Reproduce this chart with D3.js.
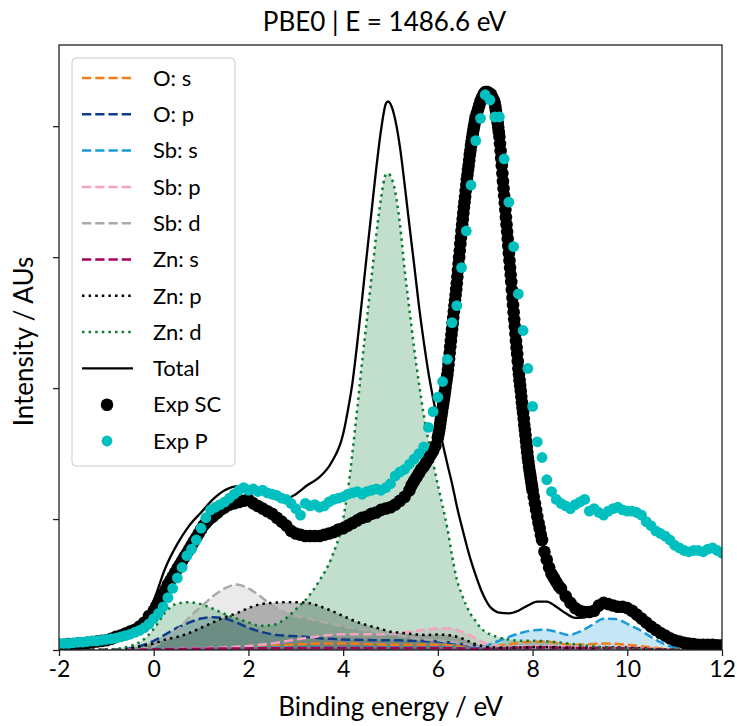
<!DOCTYPE html>
<html><head><meta charset="utf-8">
<script src="https://cdn.jsdelivr.net/npm/d3@7"></script>
<style>body{margin:0;background:#fff} text{font-family:Lato,"Open Sans",sans-serif;fill:#000}</style>
</head><body><svg id="chart" width="737" height="726"></svg>
<script>
const chartTitle = "PBE0 | E = 1486.6 eV";
const xLabel = "Binding energy / eV";
const yLabel = "Intensity / AUs";
const xTicks = [-2,0,2,4,6,8,10,12];
const xTickLabels = ["-2","0","2","4","6","8","10","12"];
const yTicks = [0,1,2,3,4];
const pdosNames = ["O: s","O: p","Sb: s","Sb: p","Sb: d","Zn: s","Zn: p","Zn: d"];

const pdosX = [-2,-1.75,-1.5,-1.25,-1,-0.75,-0.5,-0.25,0,0.25,0.5,0.75,1,1.25,1.5,1.75,2,2.25,2.5,2.75,3,3.25,3.5,3.75,4,4.25,4.5,4.75,5,5.25,5.5,5.75,6,6.25,6.5,6.75,7,7.25,7.5,7.75,8,8.25,8.5,8.75,9,9.25,9.5,9.75,10,10.25,10.5,10.75,11,11.25,11.5,11.75,12];
const oS = [0,0,0,0,0,0,0.002,0.004,0.006,0.008,0.01,0.012,0.013,0.015,0.017,0.019,0.022,0.026,0.031,0.037,0.043,0.047,0.05,0.05,0.05,0.048,0.045,0.042,0.04,0.04,0.04,0.04,0.04,0.035,0.03,0.023,0.02,0.03,0.045,0.058,0.063,0.064,0.055,0.042,0.04,0.045,0.05,0.048,0.04,0.03,0.02,0.01,0.005,0.002,0,0,0];
const oP = [0,0,0,0,0.002,0.005,0.012,0.035,0.07,0.12,0.17,0.21,0.24,0.25,0.24,0.21,0.17,0.14,0.12,0.11,0.105,0.1,0.09,0.085,0.08,0.078,0.076,0.075,0.075,0.073,0.07,0.068,0.065,0.058,0.045,0.03,0.02,0.015,0.015,0.018,0.02,0.02,0.02,0.018,0.015,0.015,0.015,0.014,0.01,0.007,0.004,0.002,0,0,0,0,0];
const sbS = [0,0,0,0,0,0,0.002,0.005,0.008,0.01,0.012,0.014,0.015,0.016,0.017,0.018,0.018,0.018,0.019,0.02,0.02,0.02,0.02,0.02,0.02,0.02,0.02,0.02,0.02,0.02,0.02,0.02,0.02,0.018,0.015,0.018,0.03,0.065,0.10,0.13,0.15,0.155,0.14,0.115,0.14,0.19,0.238,0.236,0.20,0.155,0.10,0.05,0.02,0.005,0,0,0];
const sbP = [0,0,0,0,0,0,0.001,0.003,0.005,0.007,0.01,0.012,0.015,0.017,0.02,0.025,0.03,0.04,0.05,0.065,0.08,0.093,0.105,0.115,0.12,0.12,0.12,0.12,0.122,0.13,0.145,0.155,0.165,0.165,0.14,0.10,0.05,0.03,0.025,0.028,0.03,0.03,0.03,0.027,0.025,0.022,0.02,0.02,0.02,0.015,0.01,0.006,0.003,0,0,0,0];
const sbD = [0,0,0,0,0,0,0.003,0.01,0.03,0.08,0.15,0.25,0.33,0.41,0.47,0.50,0.47,0.41,0.34,0.29,0.26,0.24,0.22,0.20,0.18,0.165,0.15,0.135,0.12,0.105,0.09,0.08,0.075,0.065,0.05,0.035,0.027,0.022,0.02,0.02,0.02,0.018,0.015,0.012,0.01,0.01,0.01,0.01,0.008,0.005,0.003,0.001,0,0,0,0,0];
const znS = [0,0,0,0,0,0,0.001,0.003,0.005,0.007,0.008,0.009,0.01,0.011,0.011,0.012,0.012,0.013,0.013,0.014,0.015,0.015,0.015,0.015,0.015,0.015,0.015,0.015,0.015,0.015,0.015,0.015,0.015,0.014,0.012,0.01,0.01,0.012,0.015,0.018,0.02,0.02,0.018,0.015,0.015,0.015,0.015,0.015,0.013,0.01,0.006,0.003,0.001,0,0,0,0];
const znP = [0,0,0,0,0.002,0.006,0.015,0.03,0.05,0.08,0.10,0.13,0.17,0.21,0.25,0.28,0.32,0.35,0.36,0.365,0.365,0.36,0.335,0.30,0.26,0.22,0.19,0.165,0.14,0.13,0.12,0.115,0.118,0.112,0.09,0.05,0.025,0.018,0.018,0.02,0.022,0.022,0.02,0.018,0.018,0.018,0.02,0.02,0.018,0.013,0.008,0.004,0.002,0,0,0,0];
const znD = [[-2,0],[-1.5,0],[-1,0.003],[-0.75,0.01],[-0.5,0.03],[-0.25,0.07],[0,0.16],[0.25,0.29],[0.5,0.355],[0.75,0.365],[1,0.35],[1.25,0.315],[1.5,0.275],[1.75,0.24],[2,0.21],[2.25,0.185],[2.5,0.19],[2.75,0.23],[3,0.31],[3.25,0.40],[3.5,0.53],[3.75,0.70],[4,1.0],[4.1,1.22],[4.2,1.52],[4.3,1.85],[4.4,2.2],[4.5,2.52],[4.6,2.85],[4.7,3.17],[4.8,3.45],[4.9,3.63],[4.95,3.64],[5,3.62],[5.1,3.5],[5.2,3.25],[5.3,2.9],[5.4,2.6],[5.5,2.3],[5.6,2.04],[5.7,1.8],[5.8,1.6],[5.9,1.43],[6,1.26],[6.1,1.1],[6.2,0.93],[6.3,0.72],[6.4,0.54],[6.5,0.43],[6.6,0.34],[6.7,0.27],[6.8,0.22],[6.9,0.17],[7,0.14],[7.25,0.10],[7.5,0.08],[7.75,0.07],[8,0.07],[8.25,0.068],[8.5,0.06],[8.75,0.05],[9,0.04],[9.5,0.02],[10,0.01],[10.5,0.004],[11,0],[12,0]];
const total = [[-2,0.02],[-1.75,0.025],[-1.5,0.035],[-1.25,0.045],[-1,0.06],[-0.75,0.09],[-0.5,0.13],[-0.25,0.21],[0,0.38],[0.25,0.63],[0.5,0.81],[0.75,0.95],[1,1.05],[1.25,1.15],[1.5,1.22],[1.75,1.25],[2,1.24],[2.25,1.2],[2.5,1.16],[2.75,1.15],[3,1.19],[3.25,1.26],[3.5,1.32],[3.75,1.43],[4,1.65],[4.1,1.83],[4.2,2.05],[4.3,2.35],[4.4,2.68],[4.5,3.02],[4.6,3.35],[4.7,3.68],[4.8,3.97],[4.9,4.17],[4.95,4.19],[5,4.17],[5.1,4.05],[5.2,3.84],[5.3,3.55],[5.4,3.24],[5.5,2.94],[5.6,2.63],[5.7,2.36],[5.8,2.12],[5.9,1.92],[6,1.74],[6.1,1.58],[6.2,1.42],[6.3,1.27],[6.4,1.1],[6.5,0.95],[6.6,0.81],[6.7,0.68],[6.8,0.57],[6.9,0.47],[7,0.39],[7.1,0.33],[7.2,0.3],[7.3,0.285],[7.5,0.28],[7.7,0.3],[7.9,0.34],[8.1,0.37],[8.3,0.37],[8.5,0.33],[8.7,0.28],[8.9,0.245],[9.1,0.25],[9.3,0.29],[9.5,0.33],[9.7,0.35],[9.9,0.33],[10.1,0.29],[10.3,0.23],[10.5,0.17],[10.7,0.11],[10.9,0.07],[11.1,0.04],[11.3,0.02],[11.6,0.01],[12,0.005]];

const expSC = [[-2,0.04],[-1.9,0.04],[-1.8,0.045],[-1.7,0.045],[-1.6,0.05],[-1.5,0.05],[-1.4,0.055],[-1.3,0.06],[-1.2,0.065],[-1.1,0.07],[-1,0.075],[-0.9,0.085],[-0.8,0.1],[-0.7,0.11],[-0.6,0.125],[-0.5,0.14],[-0.4,0.155],[-0.3,0.18],[-0.2,0.21],[-0.1,0.26],
[0,0.3],[0.05,0.33],[0.1,0.36],[0.15,0.4],[0.2,0.43],[0.25,0.46],[0.3,0.5],[0.35,0.53],[0.4,0.56],[0.45,0.59],[0.5,0.62],[0.55,0.65],[0.6,0.68],[0.65,0.71],[0.7,0.74],[0.75,0.77],[0.8,0.8],[0.85,0.83],[0.9,0.86],[0.95,0.89],[1,0.92],[1.05,0.95],[1.1,0.97],[1.15,0.99],[1.2,1.01],[1.25,1.02],[1.3,1.04],[1.35,1.05],[1.4,1.07],[1.45,1.08],
[1.5,1.09],[1.6,1.11],[1.7,1.12],[1.8,1.13],[1.9,1.14],[2,1.15],[2.1,1.12],[2.2,1.1],[2.3,1.08],[2.4,1.06],[2.5,1.04],[2.6,1.01],[2.7,0.98],[2.8,0.95],[2.9,0.91],[3,0.89],[3.1,0.88],[3.2,0.87],[3.3,0.87],[3.4,0.87],[3.5,0.87],[3.6,0.88],[3.7,0.89],[3.8,0.9],[3.9,0.92],[4,0.93],[4.1,0.95],[4.2,0.97],[4.3,0.99],[4.4,1.01],[4.5,1.02],[4.6,1.04],[4.7,1.05],[4.8,1.07],[4.9,1.08],[5,1.09],[5.1,1.11],[5.2,1.14],[5.3,1.17],[5.4,1.22],
[5.45,1.26],[5.5,1.29],[5.55,1.32],[5.6,1.35],[5.65,1.38],[5.7,1.4],[5.75,1.43],[5.8,1.46],[5.85,1.49],[5.9,1.52],[5.95,1.56],
[6,1.62],[6.025,1.67],[6.05,1.73],[6.075,1.79],[6.1,1.85],[6.125,1.91],[6.15,1.97],[6.175,2.04],[6.2,2.1],[6.225,2.18],[6.25,2.27],[6.275,2.36],[6.3,2.45],[6.325,2.54],[6.35,2.63],[6.375,2.71],[6.4,2.8],[6.425,2.9],[6.45,3],[6.475,3.1],[6.5,3.2],[6.525,3.29],[6.55,3.38],[6.575,3.46],[6.6,3.55],[6.625,3.63],[6.65,3.7],[6.675,3.78],[6.7,3.85],[6.725,3.91],[6.75,3.97],[6.775,4.02],[6.8,4.07],[6.825,4.1],[6.85,4.13],[6.875,4.16],[6.9,4.19],[6.925,4.21],[6.95,4.23],[6.975,4.25],[7,4.26],[7.025,4.26],[7.05,4.26],[7.075,4.25],[7.1,4.25],[7.125,4.24],[7.15,4.22],[7.175,4.2],[7.2,4.18],[7.225,4.12],[7.25,4.06],[7.275,3.99],[7.3,3.92],[7.325,3.81],[7.35,3.7],[7.375,3.58],[7.4,3.47],[7.425,3.36],[7.45,3.25],[7.475,3.14],[7.5,3.03],[7.525,2.92],[7.55,2.81],[7.575,2.69],[7.6,2.58],[7.625,2.47],[7.65,2.36],[7.675,2.26],[7.7,2.15],[7.725,2.06],[7.75,1.98],[7.775,1.89],[7.8,1.81],[7.825,1.72],[7.85,1.64],[7.875,1.55],[7.9,1.47],[7.925,1.4],[7.95,1.34],[7.975,1.28],[8,1.22],[8.025,1.17],[8.05,1.12],[8.075,1.07],[8.1,1.02],[8.125,0.97],[8.15,0.93],[8.175,0.88],[8.2,0.84],
[6.0125,1.645],[6.0375,1.7],[6.0625,1.76],[6.0875,1.82],[6.1125,1.88],[6.1375,1.94],[6.1625,2.005],[6.1875,2.07],[6.2125,2.14],[6.2375,2.225],[6.2625,2.315],[6.2875,2.405],[6.3125,2.495],[6.3375,2.585],[6.3625,2.67],[6.3875,2.755],[6.4125,2.85],[6.4375,2.95],[6.4625,3.05],[6.4875,3.15],[6.5125,3.245],[6.5375,3.335],[6.5625,3.42],[6.5875,3.505],[6.6125,3.59],[6.6375,3.665],[6.6625,3.74],[6.6875,3.815],[6.7125,3.88],[6.7375,3.94],[6.7625,3.995],[6.7875,4.045],
[7.2125,4.15],[7.2375,4.09],[7.2625,4.025],[7.2875,3.955],[7.3125,3.865],[7.3375,3.755],[7.3625,3.64],[7.3875,3.525],[7.4125,3.415],[7.4375,3.305],[7.4625,3.195],[7.4875,3.085],[7.5125,2.975],[7.5375,2.865],[7.5625,2.75],[7.5875,2.635],[7.6125,2.525],[7.6375,2.415],[7.6625,2.31],[7.6875,2.205],[7.7125,2.105],[7.7375,2.02],[7.7625,1.935],[7.7875,1.85],[7.8125,1.765],[7.8375,1.68],[7.8625,1.595],[7.8875,1.51],[7.9125,1.435],[7.9375,1.37],[7.9625,1.31],[7.9875,1.25],
[8.25,0.75],[8.3,0.69],[8.35,0.63],[8.4,0.58],[8.45,0.55],[8.5,0.52],[8.55,0.49],[8.6,0.47],
[8.7,0.41],[8.8,0.36],[8.9,0.32],[9,0.3],[9.1,0.29],[9.2,0.29],[9.3,0.3],[9.4,0.34],[9.5,0.36],[9.6,0.35],[9.7,0.34],[9.8,0.33],[9.9,0.33],[10,0.32],[10.1,0.3],[10.2,0.27],[10.3,0.24],[10.4,0.21],[10.5,0.18],[10.6,0.155],[10.7,0.13],[10.8,0.11],[10.9,0.09],[11,0.075],[11.1,0.065],[11.2,0.055],[11.3,0.05],[11.4,0.045],[11.5,0.04],[11.6,0.04],[11.7,0.04],[11.8,0.04],[11.9,0.035],[12,0.035]];

const expP = [[-2,0.05],[-1.9,0.05],[-1.8,0.05],[-1.7,0.055],[-1.6,0.06],[-1.5,0.06],[-1.4,0.065],[-1.3,0.07],[-1.2,0.07],[-1.1,0.075],[-1,0.08],[-0.9,0.085],[-0.8,0.09],[-0.7,0.1],[-0.6,0.11],[-0.5,0.12],[-0.4,0.135],[-0.3,0.15],[-0.2,0.17],[-0.1,0.2],
[0,0.24],[0.1,0.28],[0.2,0.33],[0.3,0.4],[0.4,0.47],[0.5,0.55],[0.6,0.63],[0.7,0.72],[0.8,0.77],[0.9,0.84],[1,0.93],[1.1,1.01],[1.2,1.07],[1.3,1.09],[1.4,1.11],[1.5,1.13],[1.6,1.16],[1.7,1.19],[1.8,1.22],[1.9,1.24],
[2,1.22],[2.1,1.23],[2.2,1.21],[2.3,1.22],[2.4,1.2],[2.5,1.19],[2.6,1.18],[2.7,1.16],[2.8,1.15],[2.9,1.12],[3,1.08],[3.1,1.03],[3.2,1.12],[3.3,1.1],[3.4,1.11],[3.5,1.09],[3.6,1.1],[3.7,1.13],[3.8,1.15],[3.9,1.16],
[4,1.17],[4.1,1.19],[4.2,1.2],[4.3,1.21],[4.4,1.19],[4.5,1.21],[4.6,1.22],[4.7,1.23],[4.8,1.22],[4.9,1.24],[5,1.27],[5.1,1.33],[5.2,1.36],[5.3,1.38],[5.4,1.42],[5.5,1.46],[5.6,1.5],[5.7,1.55],[5.8,1.7],[5.9,1.82],
[6,1.93],[6.1,2.05],[6.2,2.22],[6.3,2.5],[6.4,2.63],[6.5,2.92],[6.6,3.2],[6.7,3.55],[6.8,3.89],[6.9,4.06],[7,4.24],[7.1,4.2],[7.2,4.07],[7.3,4.07],[7.4,3.75],[7.5,3.42],[7.6,3.08],[7.7,2.72],[7.8,2.44],[7.9,2.15],
[8,1.86],[8.1,1.59],[8.2,1.47],[8.3,1.3],[8.4,1.21],[8.5,1.15],[8.6,1.12],[8.7,1.1],[8.8,1.08],[8.9,1.11],[9,1.13],[9.1,1.15],[9.2,1.06],[9.3,1.08],[9.4,1.05],[9.5,1.03],[9.6,1.06],[9.7,1.08],[9.8,1.09],[9.9,1.07],
[10,1.06],[10.1,1.06],[10.2,1.05],[10.3,1.03],[10.4,0.98],[10.5,0.95],[10.6,0.91],[10.7,0.89],[10.8,0.87],[10.9,0.84],[11,0.8],[11.1,0.78],[11.2,0.76],[11.3,0.75],[11.4,0.76],[11.5,0.76],[11.6,0.75],[11.7,0.77],[11.8,0.78],[11.9,0.76],[12,0.74]];

// ---- styles (kept separate from data) ----
const pdosStyle = [
  {color:"#f07f1a", dash:"9.25,4"},
  {color:"#0f3d8c", dash:"9.25,4"},
  {color:"#1b9ad6", dash:"9.25,4"},
  {color:"#f5a3c0", dash:"9.25,4"},
  {color:"#aaaaaa", dash:"9.25,4"},
  {color:"#a2005c", dash:"9.25,4"},
  {color:"#000000", dash:"2.5,4.1"},
  {color:"#0b7a33", dash:"2.5,4.1"}
];
const expSCColor = "#000000", expPColor = "#00bfbf";

const W = 737, H = 726;
const m = {left:59, right:15, top:45, bottom:76};
const svg = d3.select("#chart");
const x = d3.scaleLinear().domain([-2,12]).range([m.left, W-m.right]);
const y = d3.scaleLinear().domain([0,4.62]).range([H-m.bottom, m.top]);

const pdosSeries = [oS,oP,sbS,sbP,sbD,znS,znP].map(vals => vals.map((v,i)=>[pdosX[i],v]));
pdosSeries.push(znD);

svg.append("defs").append("clipPath").attr("id","clip")
  .append("rect").attr("x",m.left).attr("y",m.top).attr("width",W-m.left-m.right).attr("height",H-m.top-m.bottom);

const plot = svg.append("g").attr("clip-path","url(#clip)");
const line = d3.line().x(d=>x(d[0])).y(d=>y(d[1])).curve(d3.curveMonotoneX);
const area = d3.area().x(d=>x(d[0])).y0(y(0)).y1(d=>y(d[1])).curve(d3.curveMonotoneX);

pdosSeries.forEach((s,i)=>{
  plot.append("path").attr("d",area(s)).attr("fill",pdosStyle[i].color).attr("fill-opacity",0.25).attr("stroke","none");
});
pdosSeries.forEach((s,i)=>{
  plot.append("path").attr("d",line(s)).attr("fill","none").attr("stroke",pdosStyle[i].color)
    .attr("stroke-width",2.5).attr("stroke-dasharray",pdosStyle[i].dash);
});
plot.append("path").attr("d",line(total)).attr("fill","none").attr("stroke","#000").attr("stroke-width",2.3);

plot.append("g").selectAll("circle").data(expSC).join("circle")
  .attr("cx",d=>x(d[0])).attr("cy",d=>y(d[1])).attr("r",6.3).attr("fill",expSCColor);
plot.append("g").selectAll("circle").data(expP).join("circle")
  .attr("cx",d=>x(d[0])).attr("cy",d=>y(d[1])).attr("r",5.4).attr("fill",expPColor);

// axes
const xAxis = d3.axisBottom(x).tickValues(xTicks).tickFormat((d,i)=>xTickLabels[i]).tickSize(6).tickPadding(5);
const gx = svg.append("g").attr("transform",`translate(0,${H-m.bottom})`).call(xAxis);
gx.select(".domain").remove();
gx.selectAll("line").attr("stroke","#222").attr("stroke-width",1.3);
gx.selectAll("text").style("font-size","23px").attr("fill","#000");
const yAxis = d3.axisLeft(y).tickValues(yTicks).tickFormat("").tickSize(6);
const gy = svg.append("g").attr("transform",`translate(${m.left},0)`).call(yAxis);
gy.select(".domain").remove();
gy.selectAll("line").attr("stroke","#222").attr("stroke-width",1.3);

svg.append("rect").attr("x",m.left).attr("y",m.top).attr("width",W-m.left-m.right).attr("height",H-m.top-m.bottom)
  .attr("fill","none").attr("stroke","#222").attr("stroke-width",1.3);

svg.append("text").attr("x",(m.left+W-m.right)/2 - 6).attr("y",31).attr("text-anchor","middle").style("font-size","26px").text(chartTitle);
svg.append("text").attr("x",(m.left+W-m.right)/2).attr("y",716).attr("text-anchor","middle").style("font-size","26px").text(xLabel);
svg.append("text").attr("transform",`translate(33,${(m.top+H-m.bottom)/2 - 6}) rotate(-90)`).attr("text-anchor","middle").style("font-size","26px").text(yLabel);

// legend
const lg = svg.append("g");
lg.append("rect").attr("x",72).attr("y",58).attr("width",163).attr("height",408).attr("rx",4)
  .attr("fill","#fff").attr("fill-opacity",0.8).attr("stroke","#cccccc").attr("stroke-width",1);
const rowY = i => 78 + i*36.3;
pdosNames.forEach((n,i)=>{
  lg.append("line").attr("x1",82).attr("x2",133).attr("y1",rowY(i)).attr("y2",rowY(i))
    .attr("stroke",pdosStyle[i].color).attr("stroke-width",2.5).attr("stroke-dasharray",pdosStyle[i].dash);
  lg.append("text").attr("x",153).attr("y",rowY(i)).attr("dy","0.35em").style("font-size","22px").text(n);
});
lg.append("line").attr("x1",82).attr("x2",133).attr("y1",rowY(8)).attr("y2",rowY(8)).attr("stroke","#000").attr("stroke-width",2.3);
lg.append("text").attr("x",153).attr("y",rowY(8)).attr("dy","0.35em").style("font-size","22px").text("Total");
lg.append("circle").attr("cx",107).attr("cy",rowY(9)).attr("r",6.3).attr("fill",expSCColor);
lg.append("text").attr("x",153).attr("y",rowY(9)).attr("dy","0.35em").style("font-size","22px").text("Exp SC");
lg.append("circle").attr("cx",107).attr("cy",rowY(10)).attr("r",5.4).attr("fill",expPColor);
lg.append("text").attr("x",153).attr("y",rowY(10)).attr("dy","0.35em").style("font-size","22px").text("Exp P");
</script></body></html>
